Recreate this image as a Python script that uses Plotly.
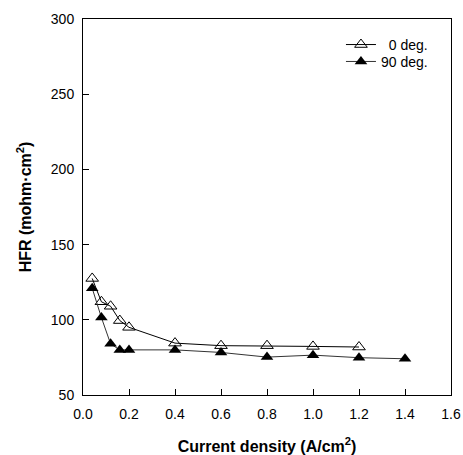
import plotly.graph_objects as go

x0 = [0.04, 0.08, 0.12, 0.16, 0.2, 0.4, 0.6, 0.8, 1.0, 1.2]
y0 = [127.5, 112, 109, 99.5, 95, 84.5, 82.8, 82.8, 82.3, 81.9]
x90 = [0.04, 0.08, 0.12, 0.16, 0.2, 0.4, 0.6, 0.8, 1.0, 1.2, 1.4]
y90 = [121, 101.5, 84, 80, 80, 80, 78.3, 75.2, 76.5, 74.8, 74.1]
xticks = [0.0, 0.2, 0.4, 0.6, 0.8, 1.0, 1.2, 1.4, 1.6]
yticks = [50, 100, 150, 200, 250, 300]

fig = go.Figure()
fig.add_trace(go.Scatter(
    x=x0, y=y0, mode="lines+markers", name="\u20070 deg.", legend="legend",
    line=dict(color="black", width=1),
    marker=dict(symbol="triangle-up-open", size=11, color="black", line=dict(width=1, color="black")),
))
fig.add_trace(go.Scatter(
    x=x90, y=y90, mode="lines+markers", name="90 deg.", legend="legend2",
    line=dict(color="#333", width=1),
    marker=dict(symbol="triangle-up", size=11, color="black"),
))

font = "Liberation Sans, Arial, sans-serif"
leg = dict(xanchor="left", yanchor="middle", bgcolor="rgba(0,0,0,0)",
           font=dict(size=14), itemwidth=30)
fig.update_layout(
    template="none",
    width=463, height=455,
    margin=dict(l=83, r=12, t=19, b=60, autoexpand=False),
    paper_bgcolor="white", plot_bgcolor="white",
    font=dict(family=font, color="black", size=14),
    showlegend=True,
    legend=dict(x=0.701, y=0.931, **leg),
    legend2=dict(x=0.701, y=0.886, **leg),
    xaxis=dict(
        range=[0, 1.6], tickvals=xticks, ticktext=[f"{v:.1f}" for v in xticks],
        showgrid=False, zeroline=False, showline=True, linecolor="black", linewidth=1,
        mirror=True, ticks="inside", ticklen=6, tickcolor="black", ticklabelstandoff=6,
        automargin=False,
        title=dict(text="<b>Current density (A/cm<sup>2</sup>)</b>", font=dict(size=16), standoff=22),
    ),
    yaxis=dict(
        range=[50, 300], tickvals=yticks,
        showgrid=False, zeroline=False, showline=True, linecolor="black", linewidth=1,
        mirror=True, ticks="inside", ticklen=6, tickcolor="black", ticklabelstandoff=5,
        automargin=False,
        title=dict(text="<b>HFR (mohm·cm<sup>2</sup>)</b>", font=dict(size=16), standoff=15),
    ),
)

fig.write_html("out.html")
